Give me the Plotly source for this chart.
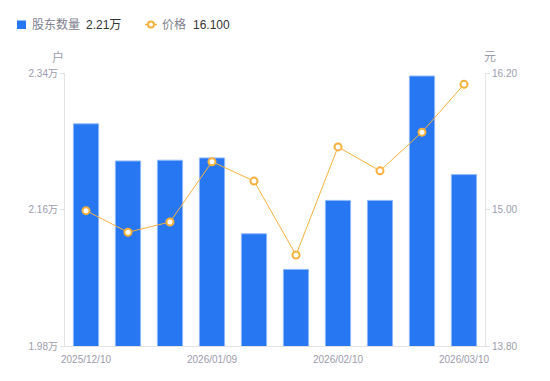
import plotly.graph_objects as go

dates = ["2025/12/10", "2025/12/20", "2025/12/31", "2026/01/09", "2026/01/20",
         "2026/01/30", "2026/02/10", "2026/02/20", "2026/02/27", "2026/03/10"]
holders = [2.273, 2.224, 2.225, 2.228, 2.128, 2.081, 2.172, 2.172, 2.336, 2.206]  # 万户
price = [14.99, 14.80, 14.89, 15.42, 15.25, 14.60, 15.55, 15.34, 15.68, 16.10]
left_ticks = [1.98, 2.16, 2.34]
left_labels = ["1.98万", "2.16万", "2.34万"]
right_ticks = [13.80, 15.00, 16.20]
right_labels = ["13.80", "15.00", "16.20"]
x_tick_labels = ["2025/12/10", "2026/01/09", "2026/02/10", "2026/03/10"]

FONT = "Liberation Sans, Arial, Noto Sans CJK SC, sans-serif"
GRAY = "#9b9cab"
AXIS = "#e3e3e6"
BLUE = "#2777f2"
ORANGE = "#f9b13d"

L, R, T, B = 65, 65, 73, 35
W, H = 550, 381
PW, PH = W - L - R, H - T - B


def px(xp):
    return (xp - L) / PW


def py(yp):
    return (H - B - yp) / PH


fig = go.Figure()
fig.add_trace(go.Bar(
    x=dates, y=holders, name="股东数量",
    marker=dict(color=BLUE, line=dict(color="#8fb8f8", width=1)),
    width=0.6, yaxis="y", hoverinfo="skip",
))
fig.add_trace(go.Scatter(
    x=dates, y=price, name="价格",
    mode="lines+markers", yaxis="y2",
    line=dict(color=ORANGE, width=1),
    marker=dict(size=7, color="#ffffff", line=dict(color=ORANGE, width=2), symbol="circle"),
))

shapes = [
    dict(type="rect", xref="paper", yref="paper", x0=px(17), x1=px(26), y0=py(29), y1=py(20.5),
         fillcolor=BLUE, line=dict(width=0)),
    dict(type="line", xref="paper", yref="paper", x0=px(145), x1=px(157), y0=py(24.5), y1=py(24.5),
         line=dict(color=ORANGE, width=1.5)),
    dict(type="circle", xref="paper", yref="paper", x0=px(148), x1=px(154), y0=py(27.5), y1=py(21.5),
         fillcolor="white", line=dict(color=ORANGE, width=2)),
]


def ann(text, x, y, color, size=12, anchor="left"):
    return dict(text=text, xref="paper", yref="paper", x=px(x), y=py(y), showarrow=False,
                font=dict(size=size, color=color), xanchor=anchor, yanchor="middle")


annotations = [
    ann("股东数量", 30, 25, "#80818e"),
    ann("2.21万", 84, 25, "#333333"),
    ann("价格", 160, 25, "#80818e"),
    ann("16.100", 191, 25, "#333333"),
    ann("户", 58, 57, GRAY, 12, "center"),
    ann("元", 490, 57, GRAY, 12, "center"),
]

fig.update_layout(
    width=W, height=H,
    margin=dict(l=L, r=R, t=T, b=B, autoexpand=False),
    plot_bgcolor="white", paper_bgcolor="white",
    font=dict(family=FONT, size=10, color=GRAY),
    showlegend=False,
    bargap=0.4,
    xaxis=dict(type="category", range=[-0.5, 9.5], tickmode="array",
               tickvals=[dates[i] for i in (0, 3, 6, 9)],
               ticktext=x_tick_labels, showline=True, linecolor=AXIS, linewidth=1,
               ticks="", ticklabelstandoff=4, showgrid=False, zeroline=False,
               tickfont=dict(size=10, color=GRAY)),
    yaxis=dict(range=[1.98, 2.34], tickvals=left_ticks, ticktext=left_labels,
               showline=True, linecolor=AXIS, linewidth=1, ticks="outside", ticklen=4,
               tickcolor=AXIS, showgrid=False, zeroline=False,
               tickfont=dict(size=10, color=GRAY)),
    yaxis2=dict(range=[13.80, 16.20], tickvals=right_ticks, ticktext=right_labels,
                overlaying="y", side="right", showline=True, linecolor=AXIS, linewidth=1,
                ticks="outside", ticklen=4, tickcolor=AXIS, showgrid=False, zeroline=False,
                tickfont=dict(size=10, color=GRAY)),
    shapes=shapes,
    annotations=annotations,
)

fig.write_html("out.html", config={"displayModeBar": False},
               post_script="document.body.style.margin='0';document.body.style.padding='0';")
